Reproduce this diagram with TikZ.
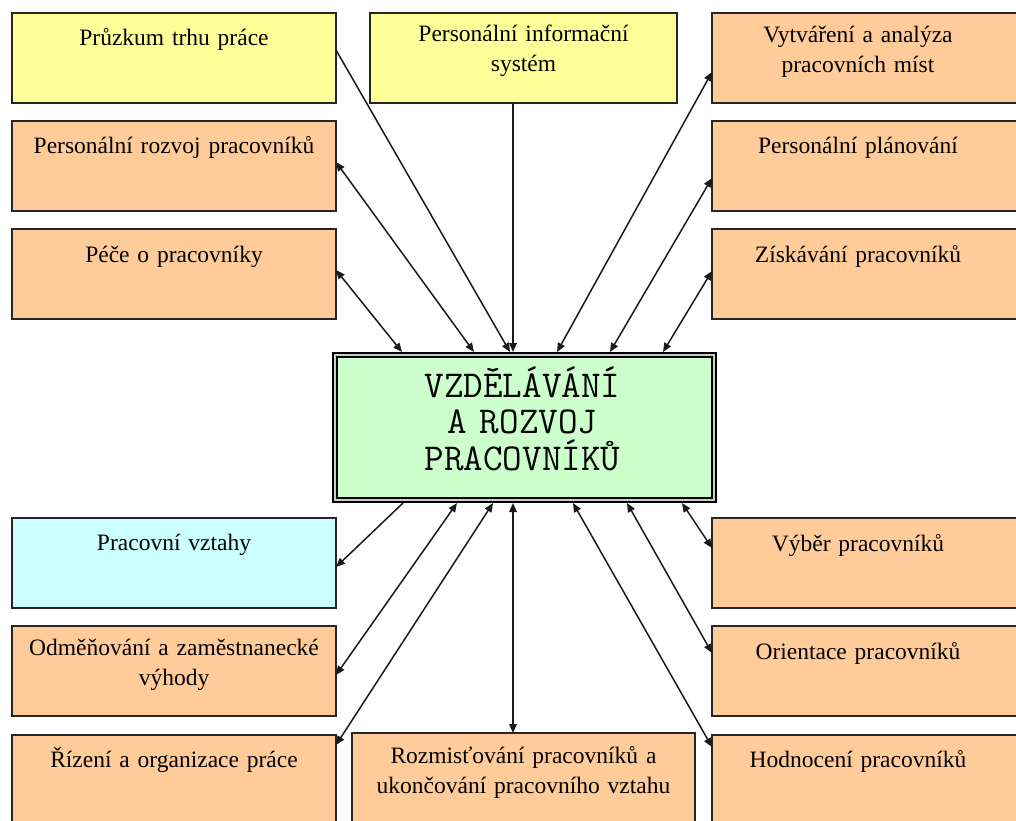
\documentclass[tikz,border=0pt]{standalone}
\usepackage{fontspec}
\setmainfont{Liberation Serif}
\usetikzlibrary{arrows.meta,calc}

\definecolor{boxyellow}{HTML}{FFFF99}
\definecolor{boxorange}{HTML}{FFCC99}
\definecolor{boxcyan}{HTML}{CCFFFF}
\definecolor{boxgreen}{HTML}{CCFFCC}

\begin{document}
\begin{tikzpicture}[x=1pt,y=-1pt,
  >={Triangle[length=9pt,width=7.5pt]},
  box/.style={draw=black!85, line width=1.4pt, inner sep=0pt, outer sep=0pt,
    anchor=north west, minimum height=90pt},
  yelbox/.style={box, fill=boxyellow},
  orbox/.style={box, fill=boxorange},
  cyanbox/.style={box, fill=boxcyan},
  lbl/.style={font=\fontsize{23.5}{30}\selectfont, text width=320pt,
    align=center, inner sep=0pt, anchor=base},
  mainbox/.style={draw=black, line width=2pt, double=black!20,
    double distance=2pt, fill=boxgreen, outer sep=3pt, inner sep=0pt,
    minimum width=379pt, minimum height=145pt},
  mainlbl/.style={font=\ttfamily\fontsize{38}{36.5}\selectfont,
    text width=370pt, align=center, inner sep=0pt, anchor=base},
  link/.style={draw=black!90, line width=1.5pt}]

\useasboundingbox (0,0) rectangle (1016,820);
\clip (0,0) rectangle (1016,820);

% central box
\node[mainbox] (vz) at (524.5,427.5) {};
\node[mainlbl] (vzT) at ($(vz.north)+(-2,45)$) {VZDĚLÁVÁNÍ\\A ROZVOJ\\PRACOVNÍKŮ};

% upper left column
\node[yelbox, minimum width=324pt] (pruzkum) at (12,13) {};
\node[lbl] (pruzkumT) at ($(pruzkum.north)+(0,32)$) {Průzkum trhu práce};
\node[orbox, minimum width=324pt] (rozvoj) at (12,121) {};
\node[lbl] (rozvojT) at ($(rozvoj.north)+(0,32)$) {Personální rozvoj pracovníků};
\node[orbox, minimum width=324pt] (pece) at (12,229) {};
\node[lbl] (peceT) at ($(pece.north)+(0,33)$) {Péče o pracovníky};

% upper middle
\node[yelbox, minimum width=307pt] (pis) at (370,13) {};
\node[lbl] (pisT) at ($(pis.north)+(0,28)$) {Personální informační\\systém};

% upper right column
\node[orbox, minimum width=308pt] (vytv) at (712,13) {};
\node[lbl] (vytvT) at ($(vytv.north)+(-8,29)$) {Vytváření a analýza\\pracovních míst};
\node[orbox, minimum width=308pt] (plan) at (712,121) {};
\node[lbl] (planT) at ($(plan.north)+(-8,32)$) {Personální plánování};
\node[orbox, minimum width=308pt] (ziskav) at (712,229) {};
\node[lbl] (ziskavT) at ($(ziskav.north)+(-8,33)$) {Získávání pracovníků};

% lower left column
\node[cyanbox, minimum width=324pt] (vztahy) at (12,518) {};
\node[lbl] (vztahyT) at ($(vztahy.north)+(0,32)$) {Pracovní vztahy};
\node[orbox, minimum width=324pt] (odmen) at (12,626) {};
\node[lbl] (odmenT) at ($(odmen.north)+(0,29)$) {Odměňování a zaměstnanecké\\výhody};
\node[orbox, minimum width=324pt] (rizeni) at (12,735) {};
\node[lbl] (rizeniT) at ($(rizeni.north)+(0,32)$) {Řízení a organizace práce};

% lower middle
\node[orbox, minimum width=343pt] (rozmist) at (352,733) {};
\node[lbl] (rozmistT) at ($(rozmist.north)+(0,30)$) {Rozmisťování pracovníků a\\ukončování pracovního vztahu};

% lower right column
\node[orbox, minimum width=308pt] (vyber) at (712,518) {};
\node[lbl] (vyberT) at ($(vyber.north)+(-8,33)$) {Výběr pracovníků};
\node[orbox, minimum width=308pt] (orient) at (712,626) {};
\node[lbl] (orientT) at ($(orient.north)+(-8,33)$) {Orientace pracovníků};
\node[orbox, minimum width=308pt] (hodn) at (712,735) {};
\node[lbl] (hodnT) at ($(hodn.north)+(-8,32)$) {Hodnocení pracovníků};

% connectors to the top edge of the central box
\draw[link,<->] ($(vz.north west)+(70,0)$) -- ($(pece.north east)+(0,41)$);
\draw[link,<->] ($(vz.north west)+(142,0)$) -- ($(rozvoj.north east)+(0,41)$);
\draw[link,->] ($(pruzkum.north east)+(0,37)$) -- ($(vz.north west)+(178,0)$);
\draw[link,->] ($(pis.south west)+(143,0)$) -- ($(vz.north west)+(181,0)$);
\draw[link,<->] ($(vz.north west)+(225,0)$) -- ($(vytv.north west)+(0,59)$);
\draw[link,<->] ($(vz.north west)+(278,0)$) -- ($(plan.north west)+(0,57)$);
\draw[link,<->] ($(vz.north west)+(331,0)$) -- ($(ziskav.north west)+(0,42)$);

% connectors from the bottom edge of the central box
\draw[link,->] ($(vz.south west)+(71,0)$) -- ($(vztahy.north east)+(0,49)$);
\draw[link,<->] ($(vz.south west)+(125,0)$) -- ($(odmen.north east)+(0,49)$);
\draw[link,<->] ($(vz.south west)+(161,0)$) -- ($(rizeni.north east)+(0,10)$);
\draw[link,<->] ($(vz.south west)+(181,0)$) -- ($(rozmist.north west)+(161,0)$);
\draw[link,<->] ($(vz.south west)+(241,0)$) -- ($(hodn.north west)+(0,12)$);
\draw[link,<->] ($(vz.south west)+(295,0)$) -- ($(orient.north west)+(0,27)$);
\draw[link,<->] ($(vz.south west)+(350,0)$) -- ($(vyber.north west)+(0,30)$);

\end{tikzpicture}
\end{document}
